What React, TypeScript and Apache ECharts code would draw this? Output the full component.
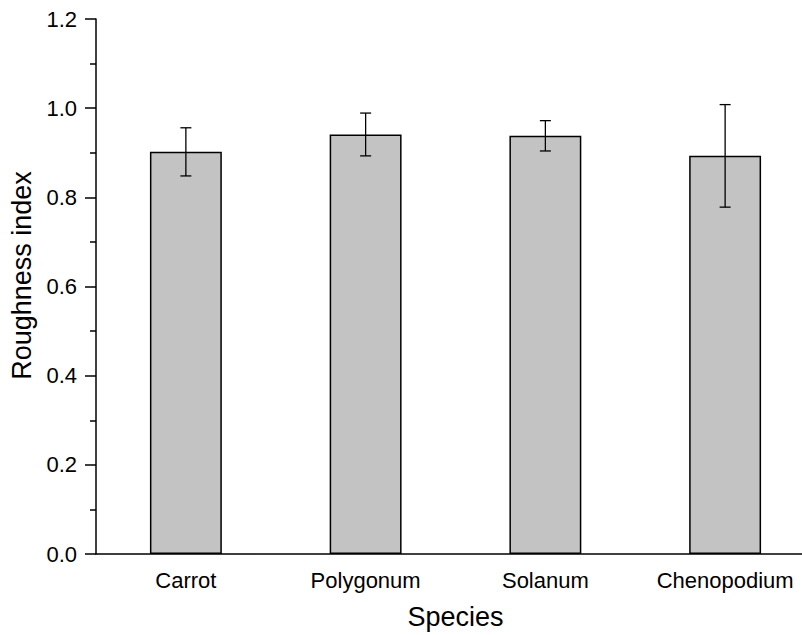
import React, { useEffect, useRef } from "react";
import * as echarts from "echarts";

const categories = ["Carrot", "Polygonum", "Solanum", "Chenopodium"];
const means = [0.902, 0.941, 0.938, 0.893];
const errors = [0.054, 0.048, 0.034, 0.115];
const yTicks = { min: 0, max: 1.2, interval: 0.2 };

export default function App() {
  const ref = useRef<HTMLDivElement>(null);
  useEffect(() => {
    if (!ref.current) return;
    const chart = echarts.init(ref.current, null, { renderer: "svg" });
    const font = "'Liberation Sans', Arial, sans-serif";
    const errData = categories.map((c, i) => [i, means[i] - errors[i], means[i] + errors[i]]);
    chart.setOption({
      animation: false,
      backgroundColor: "#ffffff",
      grid: { left: 96, top: 19, width: 719, height: 535, containLabel: false },
      xAxis: [
        {
          type: "category",
          data: categories,
          name: "Species",
          nameLocation: "middle",
          nameGap: 49,
          nameTextStyle: { fontFamily: font, fontSize: 27, color: "#000" },
          axisLine: { lineStyle: { color: "#000", width: 1.5 } },
          axisTick: { alignWithLabel: true, length: 10, lineStyle: { color: "#000", width: 1.5 } },
          axisLabel: { fontFamily: font, fontSize: 22, color: "#000", margin: 15 },
        },
        {
          type: "category",
          data: categories,
          position: "bottom",
          axisLine: { show: false },
          axisTick: { alignWithLabel: false, length: 5, lineStyle: { color: "#000", width: 1.5 } },
          axisLabel: { show: false },
        },
      ],
      yAxis: {
        type: "value",
        min: yTicks.min,
        max: yTicks.max,
        interval: yTicks.interval,
        name: "Roughness index",
        nameLocation: "middle",
        nameGap: 55,
        nameTextStyle: { fontFamily: font, fontSize: 27, color: "#000", padding: [0, 0, 0, 22] },
        axisLine: { show: true, lineStyle: { color: "#000", width: 1.5 } },
        axisTick: { show: true, length: 11, lineStyle: { color: "#000", width: 1.5 } },
        minorTick: { show: true, splitNumber: 2, length: 6, lineStyle: { color: "#000", width: 1.5 } },
        splitLine: { show: false },
        axisLabel: {
          fontFamily: font,
          fontSize: 22,
          color: "#000",
          margin: 19,
          formatter: (v: number) => v.toFixed(1),
        },
      },
      series: [
        {
          type: "bar",
          data: means,
          barWidth: "40%",
          itemStyle: { color: "#c3c3c3", borderColor: "#000", borderWidth: 1.5 },
        },
        {
          type: "custom",
          data: errData,
          z: 10,
          renderItem: (params: any, api: any) => {
            const x = api.value(0);
            const lo = api.coord([x, api.value(1)]);
            const hi = api.coord([x, api.value(2)]);
            const hw = 5.5;
            const style = { stroke: "#000", lineWidth: 1.3 };
            return {
              type: "group",
              children: [
                { type: "line", shape: { x1: lo[0], y1: lo[1], x2: hi[0], y2: hi[1] }, style },
                { type: "line", shape: { x1: hi[0] - hw, y1: hi[1], x2: hi[0] + hw, y2: hi[1] }, style },
                { type: "line", shape: { x1: lo[0] - hw, y1: lo[1], x2: lo[0] + hw, y2: lo[1] }, style },
              ],
            };
          },
        },
      ],
    });
    return () => chart.dispose();
  }, []);
  return (
    <div style={{ width: 802, height: 635, position: "absolute", left: 0, top: 0, overflow: "hidden", background: "#fff" }}>
      <div ref={ref} style={{ width: 830, height: 635 }} />
    </div>
  );
}
